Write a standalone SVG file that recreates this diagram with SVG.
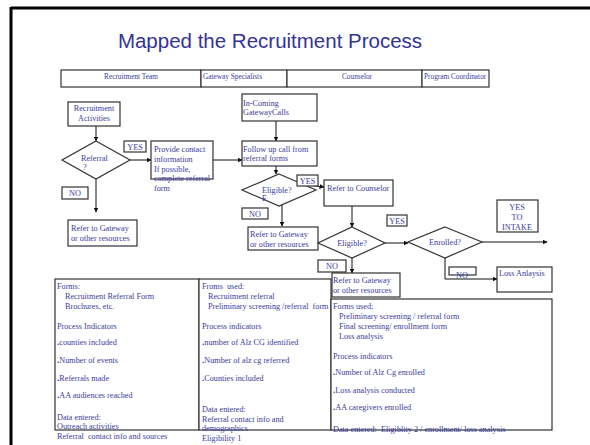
<svg xmlns="http://www.w3.org/2000/svg" width="590" height="445" viewBox="0 0 590 445">
<style>
.t{font-family:"Liberation Serif","Times New Roman",serif;font-size:8.2px;fill:#3a3aa0;white-space:pre}
.h{font-size:7.3px}
.c{text-anchor:middle}
.b{fill:#fff;stroke:#333;stroke-width:1.2}
.ln{fill:none;stroke:#111;stroke-width:1}
.ar{fill:none;stroke:#111;stroke-width:1;marker-end:url(#ah)}
.d{font-weight:bold;font-family:"Liberation Sans",sans-serif}
</style>
<defs>
<marker id="ah" viewBox="0 0 10 10" refX="9" refY="5" markerWidth="5" markerHeight="5" orient="auto" markerUnits="userSpaceOnUse">
<path d="M0,0 L10,5 L0,10 z" fill="#111"/>
</marker>
</defs>
<rect width="590" height="445" fill="#fff"/>
<g id="frame">
<line x1="11" y1="8" x2="590" y2="8" stroke="#000" stroke-width="3"/>
<line x1="11" y1="7" x2="11" y2="445" stroke="#000" stroke-width="3"/>
</g>
<text x="270" y="48" text-anchor="middle" font-family="Liberation Sans, Arial, sans-serif" font-size="20.5" fill="#333399">Mapped the Recruitment Process</text>
<g id="header">
<rect class="b" x="61" y="70" width="140" height="17"/>
<rect class="b" x="201" y="70" width="86" height="17"/>
<rect class="b" x="287" y="70" width="135" height="17"/>
<rect class="b" x="422" y="70" width="67" height="17"/>
<text class="t h c" x="131" y="79">Recruitment Team</text>
<text class="t h" x="203" y="79">Gateway Specialists</text>
<text class="t h c" x="357" y="79">Counselor</text>
<text class="t h" x="424" y="79">Program Coordinator</text>
</g>
<g id="connectors">
<line class="ar" x1="96" y1="126" x2="96" y2="141"/>
<line class="ar" x1="130" y1="160" x2="151" y2="160"/>
<line class="ar" x1="96" y1="179" x2="96" y2="212"/>
<line class="ar" x1="213" y1="160" x2="242" y2="160"/>
<line class="ar" x1="276" y1="121" x2="276" y2="141"/>
<line class="ar" x1="276" y1="166" x2="276" y2="174"/>
<line class="ar" x1="308" y1="185" x2="324" y2="187"/>
<line class="ar" x1="282" y1="205" x2="282" y2="226"/>
<line class="ar" x1="352" y1="206" x2="352" y2="227"/>
<line class="ar" x1="385" y1="243" x2="408" y2="243"/>
<line class="ar" x1="482" y1="242" x2="547" y2="242"/>
<polyline class="ar" points="445,258 445,279 497,279"/>
<line class="ar" x1="352" y1="258" x2="352" y2="273"/>
</g>
<g id="recruitment-activities">
<rect class="b" x="68" y="102" width="52" height="24"/>
<text class="t c" x="94" y="111">Recruitment</text>
<text class="t c" x="94" y="121">Activities</text>
</g>
<g id="referral-decision">
<polygon class="b" points="96,141 130,160 96,179 62,160"/>
<text class="t" x="81" y="161">Referral</text>
<text class="t" x="83" y="170">?</text>
</g>
<g id="yes1">
<rect class="b" x="124" y="141" width="22" height="11"/>
<text class="t c" x="135" y="150">YES</text>
</g>
<g id="provide-contact">
<rect class="b" x="151" y="141" width="62" height="38"/>
<text class="t" x="154" y="152">Provide contact</text>
<text class="t" x="154" y="162">information</text>
<text class="t" x="154" y="172">If possible,</text>
<text class="t" x="154" y="181">complete referral</text>
<text class="t" x="154" y="191">form</text>
</g>
<g id="no1">
<rect class="b" x="62" y="187" width="26" height="12"/>
<text class="t c" x="75" y="196">NO</text>
</g>
<g id="refer-gateway-1">
<rect class="b" x="68" y="220" width="69" height="26"/>
<text class="t" x="71" y="231">Refer to Gateway</text>
<text class="t" x="71" y="241">or other resources</text>
</g>
<g id="incoming-calls">
<rect class="b" x="242" y="94" width="75" height="27"/>
<text class="t" x="243" y="106">In-Coming</text>
<text class="t" x="243" y="115">GatewayCalls</text>
</g>
<g id="follow-up">
<rect class="b" x="242" y="141" width="75" height="25"/>
<text class="t" x="243" y="152">Follow up call from</text>
<text class="t" x="243" y="161">referral forms</text>
</g>
<g id="eligible-1">
<polygon class="b" points="279,174 316,190 279,206 242,190"/>
<text class="t" x="262" y="193">Eligible?</text>
<text class="t" x="262" y="201">E</text>
</g>
<g id="yes2">
<rect class="b" x="297" y="175" width="21" height="11"/>
<text class="t c" x="307.5" y="184">YES</text>
</g>
<g id="refer-counselor">
<rect class="b" x="324" y="180" width="69" height="26"/>
<text class="t" x="327" y="191">Refer to Counselor</text>
</g>
<g id="no2">
<rect class="b" x="242" y="208" width="26" height="11"/>
<text class="t c" x="255" y="217">NO</text>
</g>
<g id="refer-gateway-2">
<rect class="b" x="248" y="227" width="70" height="23"/>
<text class="t" x="250" y="237">Refer to Gateway</text>
<text class="t" x="250" y="247">or other resources</text>
</g>
<g id="eligible-2">
<polygon class="b" points="352,227 385,243 352,258 318,243"/>
<text class="t c" x="352" y="246">Eligible?</text>
</g>
<g id="yes3">
<rect class="b" x="387" y="215" width="20" height="11"/>
<text class="t c" x="397" y="224">YES</text>
</g>
<g id="enrolled">
<polygon class="b" points="445,227 482,242 445,258 408,242"/>
<text class="t c" x="445" y="245">Enrolled?</text>
</g>
<g id="yes-intake">
<rect class="b" x="497" y="200" width="41" height="32"/>
<text class="t c" x="517" y="210">YES</text>
<text class="t c" x="517" y="220">TO</text>
<text class="t c" x="517" y="230">INTAKE</text>
</g>
<g id="no4">
<rect class="b" x="449" y="267" width="27" height="8"/>
<text class="t c" x="462" y="278">NO</text>
</g>
<g id="loss-analysis">
<rect class="b" x="497" y="267" width="55" height="25"/>
<text class="t" x="499" y="276">Loss Anlaysis</text>
</g>
<g id="no3">
<rect class="b" x="318" y="260" width="28" height="12"/>
<text class="t c" x="332" y="269">NO</text>
</g>
<g id="refer-gateway-3">
<rect class="b" x="332" y="273" width="68" height="24"/>
<text class="t" x="333" y="283">Refer to Gateway</text>
<text class="t" x="333" y="293">or other resources</text>
</g>
<g id="info-recruitment">
<rect class="b" x="55" y="279" width="144" height="151"/>
<text class="t" x="57" y="289">Forms:</text>
<text class="t" x="65" y="299">Recruitment Referral Form</text>
<text class="t" x="65" y="309">Brochures, etc.</text>
<text class="t" x="57" y="329">Process Indicators</text>
<text class="t" x="57" y="345"><tspan class="d">.</tspan>counties included</text>
<text class="t" x="57" y="363"><tspan class="d">.</tspan>Number of events</text>
<text class="t" x="57" y="381"><tspan class="d">.</tspan>Referrals made</text>
<text class="t" x="57" y="398"><tspan class="d">.</tspan>AA audiences reached</text>
<text class="t" x="57" y="420">Data entered:</text>
<text class="t" x="57" y="429">Outreach activities</text>
<text class="t" x="57" y="439">Referral  contact info and sources</text>
</g>
<g id="info-gateway">
<rect class="b" x="199" y="279" width="132" height="151"/>
<text class="t" x="202" y="289">Froms  used:</text>
<text class="t" x="208" y="299">Recruitment referral</text>
<text class="t" x="208" y="309">Preliminary screening /referral  form</text>
<text class="t" x="202" y="329">Process indicators</text>
<text class="t" x="202" y="345"><tspan class="d">.</tspan>number of Alz CG identified</text>
<text class="t" x="202" y="363"><tspan class="d">.</tspan>Number of alz cg referred</text>
<text class="t" x="202" y="381"><tspan class="d">.</tspan>Counties included</text>
<text class="t" x="202" y="412">Data entered:</text>
<text class="t" x="202" y="422">Referral contact info and</text>
<text class="t" x="202" y="431">demographics</text>
<text class="t" x="202" y="441">Eligibility 1</text>
</g>
<g id="info-counselor">
<rect class="b" x="331" y="299" width="221" height="131"/>
<text class="t" x="333" y="309">Forms used;</text>
<text class="t" x="339" y="319">Preliminary screening / referral form</text>
<text class="t" x="339" y="329">Final screening/ enrollment form</text>
<text class="t" x="339" y="339">Loss analysis</text>
<text class="t" x="333" y="359">Process indicators</text>
<text class="t" x="333" y="375"><tspan class="d">.</tspan>Number of Alz Cg enrolled</text>
<text class="t" x="333" y="393"><tspan class="d">.</tspan>Loss analysis conducted</text>
<text class="t" x="333" y="410"><tspan class="d">.</tspan>AA caregivers enrolled</text>
<text class="t" x="333" y="432">Data entered:  Eligiblity 2 / enrollment/ loss analysis</text>
</g>
</svg>
